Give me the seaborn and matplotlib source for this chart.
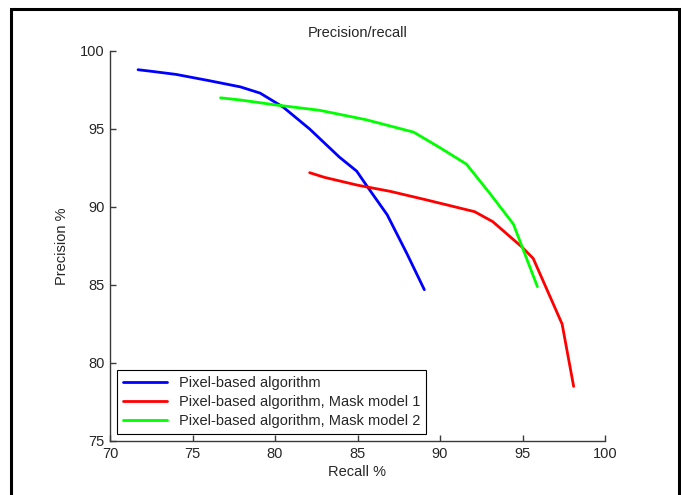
import pandas as pd
import matplotlib
matplotlib.use('Agg')
import matplotlib.pyplot as plt
import seaborn as sns
from matplotlib.patches import Rectangle

# ==============================
# Data
# ==============================

blue_recall = [71.7, 72.5, 74.0, 76.0, 77.9, 79.1, 80.5, 82.1, 83.9, 84.95, 85.6, 86.8, 88.0, 89.05]
blue_precision = [98.8, 98.7, 98.5, 98.1, 97.7, 97.3, 96.4, 95.0, 93.2, 92.3, 91.3, 89.5, 87.0, 84.7]

red_recall = [82.1, 83.0, 85.0, 87.0, 89.2, 92.1, 93.2, 94.95, 95.65, 97.4, 98.1]
red_precision = [92.2, 91.9, 91.4, 91.0, 90.45, 89.7, 89.06, 87.45, 86.7, 82.5, 78.5]

green_recall = [76.7, 77.9, 80.0, 82.7, 85.5, 88.4, 90.0, 91.6, 93.0, 94.45, 95.9]
green_precision = [97.0, 96.86, 96.55, 96.2, 95.6, 94.8, 93.8, 92.75, 90.9, 88.9, 84.9]

labels = ['Pixel-based algorithm',
          'Pixel-based algorithm, Mask model 1',
          'Pixel-based algorithm, Mask model 2']
colors = ['#0000ff', '#ff0000', '#00ff00']

x_ticks = [70, 75, 80, 85, 90, 95, 100]
y_ticks = [75, 80, 85, 90, 95, 100]

# ==============================
# Plot
# ==============================

sns.set_style("white")
plt.rcParams['font.family'] = ['Liberation Sans', 'DejaVu Sans']
fs = 10.5

fig = plt.figure(figsize=(6.81, 4.95), dpi=100)
ax = fig.add_axes([110 / 681, 1 - 441 / 495, (605 - 110) / 681, (441 - 51) / 495])

series = [(blue_recall, blue_precision), (red_recall, red_precision), (green_recall, green_precision)]
for (xs, ys), lab, col in zip(series, labels, colors):
    d = pd.DataFrame({'Recall': xs, 'Precision': ys})
    sns.lineplot(data=d, x='Recall', y='Precision', sort=False, estimator=None,
                 color=col, linewidth=2, label=lab, ax=ax)

ax.set_xlim(70, 100)
ax.set_ylim(75, 100)
ax.set_xticks(x_ticks)
ax.set_yticks(y_ticks)
ax.set_title('Precision/recall', fontsize=fs, pad=10)
ax.set_xlabel('Recall %', fontsize=fs, labelpad=3)
ax.set_ylabel('Precision %', fontsize=fs, labelpad=8)

for s in ['top', 'right']:
    ax.spines[s].set_visible(False)
for s in ['left', 'bottom']:
    ax.spines[s].set_color('#3a3a3a')
    ax.spines[s].set_linewidth(1)
ax.tick_params(bottom=True, left=True, direction='in', length=4, width=1,
               color='#3a3a3a', labelsize=fs, pad=4)

leg = ax.legend(loc='lower left', fontsize=fs, frameon=True, fancybox=False,
                handlelength=3.0, borderaxespad=0.5, labelspacing=0.35, borderpad=0.4)
leg.get_frame().set_edgecolor('black')
leg.get_frame().set_linewidth(0.8)
leg.get_frame().set_alpha(1)

# outer black frame around the figure
fig.patches.append(Rectangle((11 / 681, -0.05), (679 - 11) / 681, 1 - 9 / 495 + 0.05,
                             transform=fig.transFigure, fill=False,
                             edgecolor='black', linewidth=2.2))

plt.savefig('out.png', dpi=100)
plt.close()
